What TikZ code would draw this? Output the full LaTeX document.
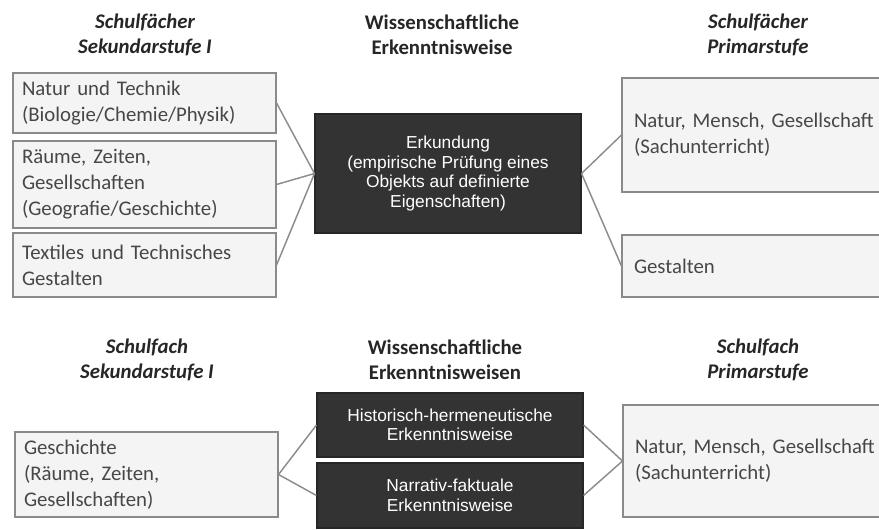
\documentclass[tikz,border=0pt]{standalone}
\usepackage{fontspec}
\setmainfont{Carlito}
\newfontfamily\arialfont{Liberation Sans}
\usepackage{tikz}
\usetikzlibrary{positioning}
\definecolor{cBox}{HTML}{F4F4F4}
\definecolor{cFrame}{HTML}{8A8A8A}
\definecolor{cText}{HTML}{474747}
\definecolor{cHead}{HTML}{262626}
\definecolor{cDark}{HTML}{333333}
\definecolor{cLine}{HTML}{8C8C8C}
\tikzset{
  fach/.style  = {rectangle, draw=cFrame, line width=0.8pt, fill=cBox, align=left,
                  text=cText, font=\fontsize{15.6}{19.5}\selectfont,
                  inner xsep=6.75pt, inner ysep=0pt, text width=183.75pt},
  fachr/.style = {fach, inner xsep=9pt, text width=186pt},
  weise/.style = {rectangle, draw=black!85, fill=cDark, line width=0.8pt, align=center,
                  text=white, font=\arialfont\fontsize{13}{14.6}\selectfont,
                  minimum width=199.5pt, inner sep=0pt},
  head/.style  = {align=center, text=cHead, font=\fontsize{15.6}{18.75}\selectfont\bfseries\itshape},
  headm/.style = {head, font=\fontsize{15.6}{18.75}\selectfont\bfseries},
  ln/.style    = {draw=cLine, line width=1.1pt},
}

\begin{document}
\begin{tikzpicture}[x=0.75pt, y=-0.75pt]
  \useasboundingbox (0,0) rectangle (879,529);

  % obere Zeile
  \node[head]  (hsek) at (145,34.5) {Schulfächer\\Sekundarstufe I};
  \node[headm] (hwis) at (442,34.5) {Wissenschaftliche\\Erkenntnisweise};
  \node[head]  (hpri) at (758,34.5) {Schulfächer\\Primarstufe};

  \node[fach, minimum height=45pt]    (nt)  at (144.5,103)   {Natur und Technik\\(Biologie/Chemie/Physik)};
  \node[fach, minimum height=65.25pt] (rzg) at (144.5,184.5) {Räume, Zeiten,\\Gesellschaften\\(Geografie/Geschichte)};
  \node[fach, minimum height=48pt]    (ttg) at (144.5,265)   {Textiles und Technisches\\Gestalten};

  \node[weise, minimum height=89.25pt] (erk) at (448,173.5) {Erkundung\\(empirische Prüfung eines\\Objekts auf definierte\\Eigenschaften)};

  \node[fachr, minimum height=85.5pt] (nmg)  at (758,135) {Natur, Mensch, Gesellschaft\\(Sachunterricht)};
  \node[fachr, minimum height=46.5pt] (gest) at (758,266) {Gestalten};

  \draw[ln] (nt.east)  -- (erk.west);
  \draw[ln] (rzg.east) -- (erk.west);
  \draw[ln] (ttg.east) -- (erk.west);
  \draw[ln] (erk.east) -- (nmg.west);
  \draw[ln] (erk.east) -- (gest.west);

  % untere Zeile
  \node[head]  (hsek2) at (147,360) {Schulfach\\Sekundarstufe I};
  \node[headm] (hwis2) at (445,360) {Wissenschaftliche\\Erkenntnisweisen};
  \node[head]  (hpri2) at (758,360) {Schulfach\\Primarstufe};

  \node[fach, minimum height=63.75pt] (gesch) at (146.5,474.5) {Geschichte\\(Räume, Zeiten,\\Gesellschaften)};

  \node[weise, minimum height=48pt]    (hhe) at (450,425)   {Historisch-hermeneutische\\Erkenntnisweise};
  \node[weise, minimum height=48.75pt] (nfe) at (450,495.5) {Narrativ-faktuale\\Erkenntnisweise};

  \node[fachr, minimum height=84pt] (nmg2) at (759,461) {Natur, Mensch, Gesellschaft\\(Sachunterricht)};

  \draw[ln] (gesch.east) -- (hhe.west);
  \draw[ln] (gesch.east) -- (nfe.west);
  \draw[ln] (hhe.east) -- (nmg2.west);
  \draw[ln] (nfe.east) -- (nmg2.west);
\end{tikzpicture}
\end{document}
